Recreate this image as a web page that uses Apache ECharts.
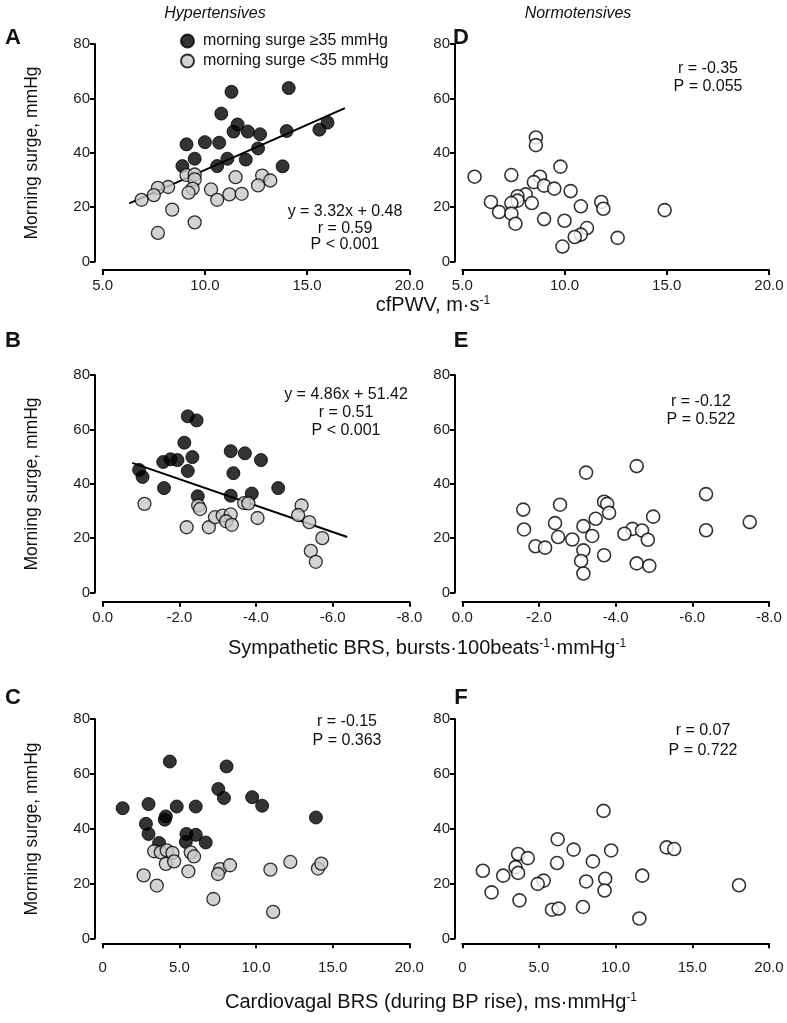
<!DOCTYPE html>
<html><head><meta charset="utf-8">
<script src="https://cdn.jsdelivr.net/npm/echarts@6/dist/echarts.min.js"></script>
<style>html,body{margin:0;padding:0;background:#fff}#c{width:787px;height:1023px}</style>
</head><body><div id="c"></div>
<script>
// ---------- DATA ----------
const seriesNames = ['morning surge \u226535 mmHg', 'morning surge <35 mmHg'];
const groupTitles = ['Hypertensives', 'Normotensives'];
const panelLetters = ['A', 'D', 'B', 'E', 'C', 'F'];
const yTicks = [0, 20, 40, 60, 80];

// A: cfPWV (hypertensives)
const A_hi_x = [11.3, 14.1, 10.8, 11.6, 11.4, 12.1, 12.7, 14.0, 15.6, 16.0, 9.1, 10.0, 10.7, 12.6, 9.5, 11.1, 12.0, 8.9, 10.6, 13.8];
const A_hi_y = [62.4, 63.8, 54.4, 50.4, 47.8, 47.8, 46.8, 48.0, 48.5, 51.1, 43.1, 43.9, 43.7, 41.6, 37.8, 37.8, 37.5, 35.1, 35.1, 35.0];
const A_lo_x = [9.1, 9.5, 9.5, 11.5, 12.8, 13.2, 12.6, 8.2, 7.7, 7.5, 6.9, 9.4, 9.2, 10.3, 10.6, 11.2, 11.8, 8.4, 9.5, 7.7];
const A_lo_y = [31.8, 32.0, 30.2, 31.0, 31.6, 29.8, 28.0, 27.4, 27.1, 24.4, 22.7, 26.8, 25.3, 26.5, 22.7, 24.7, 24.9, 19.1, 14.4, 10.5];
// D: cfPWV (normotensives)
const D_x = [5.6, 8.6, 8.6, 9.8, 7.4, 8.8, 8.5, 9.0, 9.5, 10.3, 8.1, 7.7, 7.7, 8.4, 7.4, 6.4, 6.8, 7.4, 7.6, 9.0, 10.0, 10.8, 11.8, 11.9, 14.9, 11.1, 10.8, 10.5, 9.9, 12.6];
const D_y = [31.2, 45.6, 42.8, 34.9, 31.8, 31.2, 29.2, 27.9, 26.8, 25.9, 24.7, 24.0, 22.4, 21.5, 21.5, 21.9, 18.2, 17.6, 13.9, 15.6, 15.0, 20.3, 21.9, 19.4, 18.9, 12.3, 9.9, 9.0, 5.5, 8.7];
// B: sympathetic BRS (hypertensives)
const B_hi_x = [-2.22, -2.45, -2.13, -3.34, -3.71, -4.13, -1.58, -1.77, -1.95, -2.34, -2.22, -3.41, -0.95, -1.04, -1.60, -4.58, -2.48, -3.34, -3.89];
const B_hi_y = [64.8, 63.3, 55.1, 52.0, 51.2, 48.7, 48.0, 49.0, 48.7, 49.8, 44.7, 43.9, 45.1, 42.5, 38.4, 38.4, 35.4, 35.6, 36.4];
const B_lo_x = [-1.09, -2.49, -2.54, -3.69, -3.80, -2.19, -2.77, -2.93, -3.13, -3.34, -3.22, -3.37, -4.04, -5.19, -5.10, -5.39, -5.73, -5.43, -5.56];
const B_lo_y = [32.6, 32.0, 30.7, 32.9, 32.8, 24.0, 24.0, 27.7, 28.3, 28.7, 26.2, 24.9, 27.4, 32.0, 28.5, 25.9, 20.0, 15.3, 11.3];
// E: sympathetic BRS (normotensives)
const E_x = [-4.55, -3.23, -6.36, -2.55, -3.70, -3.78, -1.59, -3.83, -4.98, -3.48, -2.42, -3.16, -7.50, -1.61, -4.44, -4.69, -4.23, -6.36, -3.39, -2.50, -2.87, -4.84, -1.91, -2.16, -3.16, -3.70, -3.10, -4.55, -4.88, -3.16];
const E_y = [46.5, 44.1, 36.2, 32.3, 33.4, 32.6, 30.5, 29.3, 27.9, 27.1, 25.5, 24.4, 25.9, 23.2, 23.4, 22.8, 21.6, 22.9, 20.8, 20.4, 19.5, 19.4, 17.0, 16.5, 15.5, 13.7, 11.6, 10.7, 9.8, 7.0];
// C: cardiovagal BRS (hypertensives)
const C_hi_x = [4.38, 8.08, 7.54, 7.91, 9.75, 10.40, 1.30, 2.99, 4.83, 6.07, 13.91, 4.12, 4.05, 2.82, 2.99, 5.46, 6.07, 5.42, 6.72, 3.68];
const C_hi_y = [64.5, 62.7, 54.5, 51.2, 51.5, 48.4, 47.5, 49.0, 48.1, 48.1, 44.1, 44.5, 43.3, 41.8, 38.1, 38.1, 37.8, 35.2, 35.0, 34.8];
const C_lo_x = [3.36, 3.79, 4.18, 4.55, 5.74, 5.96, 4.12, 4.66, 2.67, 3.53, 5.59, 7.65, 7.52, 8.30, 10.94, 12.24, 14.04, 14.26, 7.22, 11.12];
const C_lo_y = [31.8, 31.4, 32.1, 31.2, 31.4, 29.9, 27.2, 28.1, 23.0, 19.3, 24.5, 25.3, 23.5, 26.7, 25.1, 27.9, 25.5, 27.3, 14.4, 9.7];
// F: cardiovagal BRS (normotensives)
const F_x = [9.21, 6.22, 7.26, 9.71, 13.33, 13.82, 3.64, 4.27, 8.52, 6.18, 3.47, 3.64, 1.34, 2.67, 11.74, 9.32, 5.31, 4.92, 8.08, 18.05, 1.91, 9.28, 3.73, 5.85, 6.28, 7.87, 11.55];
const F_y = [46.5, 36.2, 32.4, 32.1, 33.2, 32.6, 30.8, 29.3, 28.1, 27.5, 26.0, 23.9, 24.7, 22.9, 22.9, 21.8, 21.1, 19.9, 20.8, 19.4, 16.8, 17.5, 13.9, 10.5, 10.9, 11.5, 7.3];

// regressions: slope, intercept, x range of drawn line
const A_fit = [3.32, 0.48]; const A_fit_range = [6.3, 16.85];
const B_fit = [4.86, 51.42]; const B_fit_range = [-0.77, -6.38];

// axis ranges / ticks
const xRowMin = [5, -8, 0]; const xRowMax = [20, 0, 20]; const xRowStep = [5, 2, 5];

// annotation texts
const annA = ['y = 3.32x + 0.48', 'r = 0.59', 'P < 0.001'];
const annD = ['r = -0.35', 'P = 0.055'];
const annB = ['y = 4.86x + 51.42', 'r = 0.51', 'P < 0.001'];
const annE = ['r = -0.12', 'P = 0.522'];
const annC = ['r = -0.15', 'P = 0.363'];
const annF = ['r = 0.07', 'P = 0.722'];
const yName = 'Morning surge, mmHg';

// ---------- CHART ----------
const FONT = '"Liberation Sans", Arial, Helvetica, sans-serif';
const chart = echarts.init(document.getElementById('c'), null, {renderer: 'canvas'});
const zip = (xs, ys) => xs.map((x, i) => [x, ys[i]]);
const fitLine = (f, r) => r.map(x => [x, +(f[0] * x + f[1]).toFixed(3)]);

const colLeft = [102.7, 462.3], plotW = 306.6, yLineX = [95, 455];
const rows = [
  {top: 44, h: 217.5, axisY: 270, lblMargin: 8},
  {top: 375, h: 217.5, axisY: 601.7, lblMargin: 9},
  {top: 719, h: 219.5, axisY: 943.3, lblMargin: 17}
];

const grids = [], xAxes = [], yAxes = [];
rows.forEach((r, ri) => {
  [0, 1].forEach(ci => {
    grids.push({left: colLeft[ci], top: r.top, width: plotW, height: r.h, containLabel: false, outerBoundsMode: 'none'});
    const gi = grids.length - 1;
    xAxes.push({
      type: 'value', gridIndex: gi, position: 'bottom', offset: r.axisY - (r.top + r.h),
      min: xRowMin[ri], max: xRowMax[ri], interval: xRowStep[ri], inverse: ri === 1,
      axisLine: {show: true, onZero: false, lineStyle: {color: '#000', width: 2}},
      axisTick: {show: true, length: 5, inside: false, lineStyle: {color: '#000', width: 2}},
      splitLine: {show: false},
      axisLabel: {fontFamily: FONT, fontSize: 15, color: '#1a1a1a', margin: r.lblMargin,
        formatter: v => (ri === 2 && v === 0) ? '0' : (v === 0 ? '0.0' : v.toFixed(1))}
    });
    yAxes.push({
      type: 'value', gridIndex: gi, position: 'left', offset: colLeft[ci] - yLineX[ci],
      min: yTicks[0], max: yTicks[yTicks.length - 1], interval: yTicks[1] - yTicks[0],
      axisLine: {show: true, onZero: false, lineStyle: {color: '#000', width: 2}},
      axisTick: {show: true, length: 5, lineStyle: {color: '#000', width: 2}},
      splitLine: {show: false},
      axisLabel: {fontFamily: FONT, fontSize: 15, color: '#1a1a1a', margin: 5}
    });
  });
});

const hiStyle = {color: '#000', borderColor: '#000', borderWidth: 1};
const loStyle = {color: '#c8c8c8', borderColor: '#000', borderWidth: 1.3};
const openStyle = {color: '#fff', borderColor: '#000', borderWidth: 1.6};
const SZ = 13;
const sc = (name, gi, data, style) => ({name, type: 'scatter', xAxisIndex: gi, yAxisIndex: gi, data, symbol: 'circle', symbolSize: SZ, itemStyle: style, emphasis: {disabled: true}, z: 3});
const ln = (gi, data) => ({type: 'line', xAxisIndex: gi, yAxisIndex: gi, data, symbol: 'none', lineStyle: {color: '#000', width: 2}, z: 2, silent: true});

const series = [
  ln(0, fitLine(A_fit, A_fit_range)),
  sc(seriesNames[0], 0, zip(A_hi_x, A_hi_y), hiStyle),
  sc(seriesNames[1], 0, zip(A_lo_x, A_lo_y), loStyle),
  sc('Normotensives D', 1, zip(D_x, D_y), openStyle),
  ln(2, fitLine(B_fit, B_fit_range)),
  sc(seriesNames[0], 2, zip(B_hi_x, B_hi_y), hiStyle),
  sc(seriesNames[1], 2, zip(B_lo_x, B_lo_y), loStyle),
  sc('Normotensives E', 3, zip(E_x, E_y), openStyle),
  sc(seriesNames[0], 4, zip(C_hi_x, C_hi_y), hiStyle),
  sc(seriesNames[1], 4, zip(C_lo_x, C_lo_y), loStyle),
  sc('Normotensives F', 5, zip(F_x, F_y), openStyle)
];

const txt = (x, y, text, o = {}) => ({
  type: 'text', x, y, silent: true, rotation: o.rot || 0,
  style: Object.assign({text, fontFamily: FONT, fontSize: o.size || 16, fontWeight: o.weight || 'normal',
    fontStyle: o.style || 'normal', fill: '#111', align: o.align || 'center', verticalAlign: 'middle',
    textAlign: o.align || 'center', textVerticalAlign: 'middle'}, o.rich ? {rich: o.rich} : {})
});
const annLines = (cx, ys, lines) => lines.map((t, i) => txt(cx, ys[i], t));
const supRich = {sup: {fontFamily: FONT, fontSize: 12, verticalAlign: 'top', fill: '#111', padding: [0, 0, 7, 0]}};

const graphics = [
  txt(215, 14, groupTitles[0], {style: 'italic', size: 16}),
  txt(578, 14, groupTitles[1], {style: 'italic', size: 16}),
  txt(13, 38, panelLetters[0], {weight: 'bold', size: 22}),
  txt(461, 38, panelLetters[1], {weight: 'bold', size: 22}),
  txt(13, 341, panelLetters[2], {weight: 'bold', size: 22}),
  txt(461, 341, panelLetters[3], {weight: 'bold', size: 22}),
  txt(13, 698, panelLetters[4], {weight: 'bold', size: 22}),
  txt(461, 698, panelLetters[5], {weight: 'bold', size: 22}),
  txt(32, 153, yName, {rot: Math.PI / 2, size: 17.5}),
  txt(32, 484, yName, {rot: Math.PI / 2, size: 17.5}),
  txt(32, 829, yName, {rot: Math.PI / 2, size: 17.5}),
  txt(433, 305, 'cfPWV, m\u00b7s{sup|-1}', {size: 20, rich: supRich}),
  txt(427, 648, 'Sympathetic BRS, bursts\u00b7100beats{sup|-1}\u00b7mmHg{sup|-1}', {size: 20, rich: supRich}),
  txt(431, 1002, 'Cardiovagal BRS (during BP rise), ms\u00b7mmHg{sup|-1}', {size: 20, rich: supRich}),
  ...annLines(345, [212, 228.5, 245], annA),
  ...annLines(708, [69, 87], annD),
  ...annLines(346, [395, 413, 431], annB),
  ...annLines(701, [402, 420], annE),
  ...annLines(347, [722, 741], annC),
  ...annLines(703, [731, 751], annF)
];

chart.setOption({
  animation: false,
  backgroundColor: '#fff',
  textStyle: {fontFamily: FONT},
  grid: grids, xAxis: xAxes, yAxis: yAxes, series,
  legend: {
    data: seriesNames, orient: 'vertical', left: 175, top: 28, itemGap: 4,
    itemWidth: 13, itemHeight: 13, icon: 'circle', selectedMode: false,
    textStyle: {fontFamily: FONT, fontSize: 16, color: '#111', padding: [0, 0, 0, 4]}
  },
  graphic: graphics
});
</script></body></html>
